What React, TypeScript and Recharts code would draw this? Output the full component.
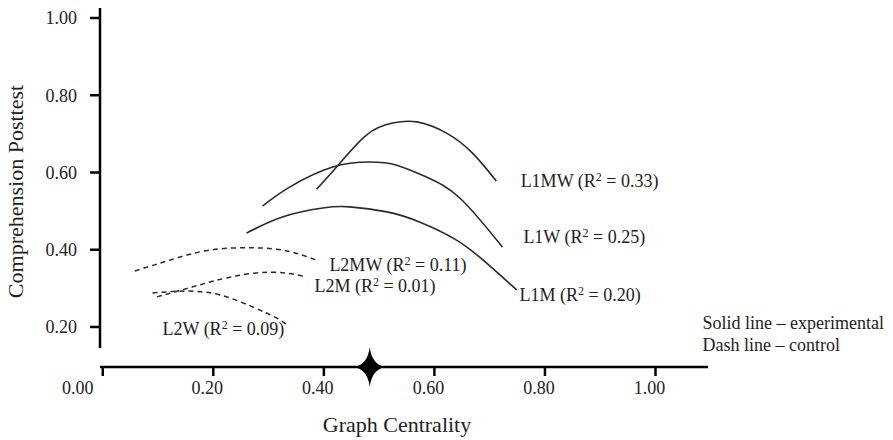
import React from "react";
import { LineChart, Line, XAxis, YAxis, ReferenceLine, ReferenceDot } from "recharts";

// fitted curves (x = graph centrality, y = posttest)
const l1mw = [
  { x: 0.387, y: 0.557 }, { x: 0.423, y: 0.614 }, { x: 0.477, y: 0.697 }, { x: 0.524, y: 0.728 },
  { x: 0.568, y: 0.731 }, { x: 0.622, y: 0.702 }, { x: 0.669, y: 0.65 }, { x: 0.712, y: 0.578 },
];
const l1w = [
  { x: 0.289, y: 0.513 }, { x: 0.338, y: 0.562 }, { x: 0.416, y: 0.614 }, { x: 0.483, y: 0.627 },
  { x: 0.532, y: 0.619 }, { x: 0.586, y: 0.588 }, { x: 0.646, y: 0.534 }, { x: 0.723, y: 0.407 },
];
const l1m = [
  { x: 0.26, y: 0.443 }, { x: 0.325, y: 0.485 }, { x: 0.398, y: 0.508 }, { x: 0.447, y: 0.511 },
  { x: 0.514, y: 0.498 }, { x: 0.573, y: 0.472 }, { x: 0.64, y: 0.425 }, { x: 0.694, y: 0.366 },
  { x: 0.749, y: 0.296 },
];
const l2mw = [
  { x: 0.058, y: 0.345 }, { x: 0.121, y: 0.373 }, { x: 0.193, y: 0.399 }, { x: 0.271, y: 0.405 },
  { x: 0.333, y: 0.397 }, { x: 0.387, y: 0.373 },
];
const l2m = [
  { x: 0.098, y: 0.278 }, { x: 0.163, y: 0.304 }, { x: 0.23, y: 0.329 }, { x: 0.302, y: 0.342 },
  { x: 0.362, y: 0.332 },
];
const l2w = [
  { x: 0.09, y: 0.288 }, { x: 0.152, y: 0.293 }, { x: 0.212, y: 0.283 }, { x: 0.271, y: 0.252 },
  { x: 0.315, y: 0.223 }, { x: 0.335, y: 0.203 },
];

const xTicks = [0, 0.2, 0.4, 0.6, 0.8, 1.0];
const yTicks = [0.2, 0.4, 0.6, 0.8, 1.0];
const meanCentrality = 0.483;

const curveLabels = [
  { name: "L1MW", r2: "0.33", x: 0.756, y: 0.578 },
  { name: "L1W", r2: "0.25", x: 0.761, y: 0.433 },
  { name: "L1M", r2: "0.20", x: 0.754, y: 0.283 },
  { name: "L2MW", r2: "0.11", x: 0.41, y: 0.361 },
  { name: "L2M", r2: "0.01", x: 0.383, y: 0.305 },
  { name: "L2W", r2: "0.09", x: 0.108, y: 0.195 },
];
const notes = [
  { text: "Solid line \u2013 experimental", x: 1.085, y: 0.21 },
  { text: "Dash line \u2013 control", x: 1.085, y: 0.153 },
];

const X_MIN = -0.005;
const X_MAX = 1.095;
const Y_MIN = 0.0964;
const Y_MAX = 1.0259;

const font = "'Liberation Serif', 'Times New Roman', serif";
const ink = "#222";

const XTick = (props: any) => {
  const { x, y, payload } = props;
  const shift = payload.value === 0 ? -25 : -6;
  return (
    <text x={x + shift} y={y + 3} textAnchor="middle" dominantBaseline="hanging" fontFamily={font} fontSize={18} fill={ink}>
      {payload.value.toFixed(2)}
    </text>
  );
};

const Star = (props: any) => {
  const { cx, cy } = props;
  const d = `M${cx},${cy - 20} Q${cx + 2},${cy - 3} ${cx + 15},${cy} Q${cx + 2},${cy + 3} ${cx},${cy + 20} Q${cx - 2},${cy + 3} ${cx - 15},${cy} Q${cx - 2},${cy - 3} ${cx},${cy - 20} Z`;
  return <path d={d} fill="#000" />;
};

export default function App() {
  return (
    <div style={{ position: "absolute", left: 0, top: 0, background: "#fff" }}>
      <LineChart width={893} height={440} margin={{ top: 8, right: 185, bottom: 0, left: 0 }}>
        <XAxis
          type="number"
          dataKey="x"
          domain={[X_MIN, X_MAX]}
          ticks={xTicks}
          allowDataOverflow
          height={73}
          tickSize={9}
          stroke="#000"
          strokeWidth={2.5}
          tick={<XTick />}
          label={({ viewBox }: any) => (
            <text x={viewBox.x + viewBox.width / 2 - 7} y={viewBox.y + 65} textAnchor="middle" fontFamily={font} fontSize={22} fill={ink}>
              Graph Centrality
            </text>
          )}
        />
        <YAxis
          type="number"
          dataKey="y"
          domain={[Y_MIN, Y_MAX]}
          ticks={yTicks}
          allowDataOverflow
          width={100}
          axisLine={false}
          tickSize={10}
          tickMargin={13}
          tickLine={{ stroke: "#000", strokeWidth: 2.5 }}
          tick={{ fontFamily: font, fontSize: 18, fill: ink }}
          tickFormatter={(v: number) => v.toFixed(2)}
          label={({ viewBox }: any) => (
            <text
              x={15}
              y={viewBox.y + viewBox.height / 2 + 4}
              transform={`rotate(-90 15 ${viewBox.y + viewBox.height / 2 + 4})`}
              textAnchor="middle"
              dominantBaseline="central"
              fontFamily={font}
              fontSize={22}
              fill={ink}
            >
              Comprehension Posttest
            </text>
          )}
        />
        <ReferenceLine
          segment={[{ x: X_MIN, y: 0.1456 }, { x: X_MIN, y: Y_MAX }]}
          stroke="#000"
          strokeWidth={2.5}
          ifOverflow="visible"
        />
        <Line data={l1mw} dataKey="y" type="natural" stroke="#2a2a2a" strokeWidth={1.6} dot={false} isAnimationActive={false} />
        <Line data={l1w} dataKey="y" type="natural" stroke="#2a2a2a" strokeWidth={1.6} dot={false} isAnimationActive={false} />
        <Line data={l1m} dataKey="y" type="natural" stroke="#2a2a2a" strokeWidth={1.6} dot={false} isAnimationActive={false} />
        <Line data={l2mw} dataKey="y" type="natural" stroke="#2a2a2a" strokeWidth={1.5} strokeDasharray="5 4" dot={false} isAnimationActive={false} />
        <Line data={l2m} dataKey="y" type="natural" stroke="#2a2a2a" strokeWidth={1.5} strokeDasharray="5 4" dot={false} isAnimationActive={false} />
        <Line data={l2w} dataKey="y" type="natural" stroke="#2a2a2a" strokeWidth={1.5} strokeDasharray="5 4" dot={false} isAnimationActive={false} />
        <ReferenceDot x={meanCentrality} y={Y_MIN} r={0} shape={<Star />} ifOverflow="visible" />
        {curveLabels.map((c) => (
          <ReferenceDot
            key={c.name}
            x={c.x}
            y={c.y}
            r={0}
            ifOverflow="visible"
            label={({ viewBox }: any) => (
              <text x={viewBox.x} y={viewBox.y + 6} fontFamily={font} fontSize={18} fill={ink}>
                {c.name} (R
                <tspan dy={-6} fontSize={12}>2</tspan>
                <tspan dy={6}> = {c.r2})</tspan>
              </text>
            )}
          />
        ))}
        {notes.map((n) => (
          <ReferenceDot
            key={n.text}
            x={n.x}
            y={n.y}
            r={0}
            ifOverflow="visible"
            label={({ viewBox }: any) => (
              <text x={viewBox.x} y={viewBox.y + 6} fontFamily={font} fontSize={18} fill={ink}>
                {n.text}
              </text>
            )}
          />
        ))}
      </LineChart>
    </div>
  );
}
